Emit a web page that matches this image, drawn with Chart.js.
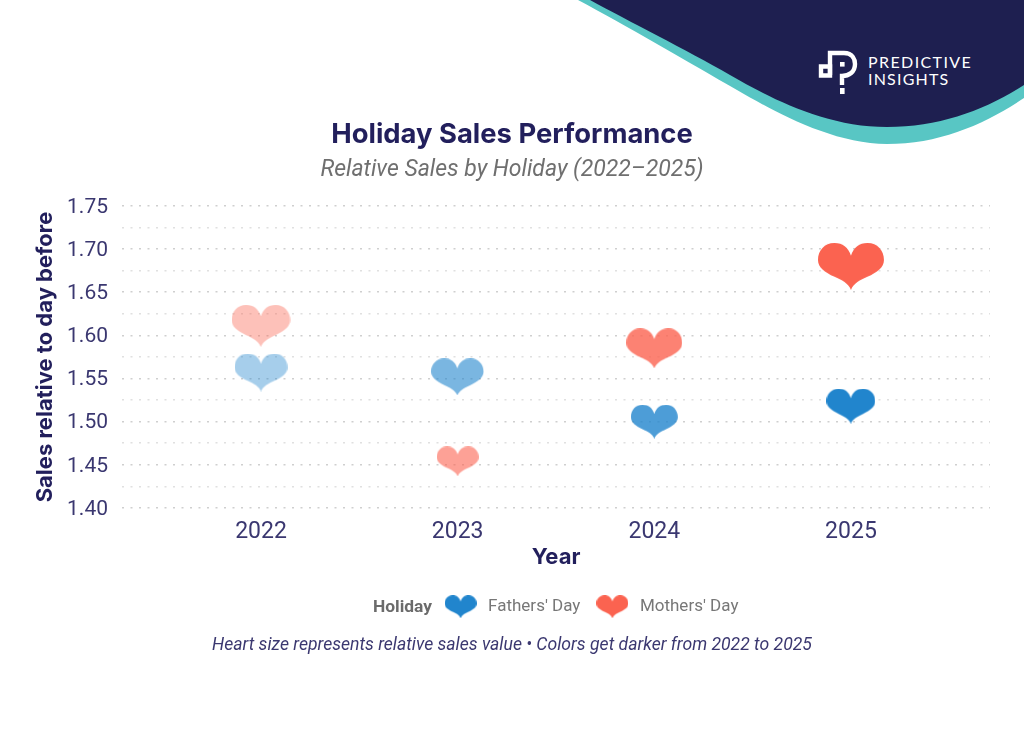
<!DOCTYPE html>
<html>
<head>
<meta charset="utf-8">
<script src="https://cdn.jsdelivr.net/npm/chart.js@4"></script>
<style>
html,body{margin:0;padding:0;background:#fff;width:1024px;height:731px;overflow:hidden}
#wrap{position:relative;width:1024px;height:731px}
#chart{position:absolute;left:0;top:0}
svg{position:absolute;left:0;top:0}
.t{position:absolute;white-space:nowrap;font-family:Roboto,sans-serif}
#holiday{left:373px;top:596px;font-size:17.4px;font-weight:700;color:#6b6b6b;line-height:20px}
#foot{left:212px;top:634px;font-size:17.6px;font-style:italic;color:#3b3870;line-height:20px}
</style>
</head>
<body>
<div id="wrap">
<svg width="1024" height="731" viewBox="0 0 1024 731">
<path fill="#58c6c4" d="M578 0 C625 25 690 63 737 90 C770 109 830 144 887 144 C940 144 985 124 1024 98 L1024 0 Z"/>
<path fill="#1e1f50" d="M590 0 C630 22 685 49 730 75 C770 98 825 127 887 127 C940 127 985 110 1024 85 L1024 0 Z"/>
<g fill="none" stroke="#fff" stroke-width="4.4">
<path d="M821 66.5 H830 V75.5 H821 Z"/>
<path d="M830 75 V53 H844 C853 53 855 60 855 64 C855 72 849 76 842 76 V85"/>
</g>
<rect x="840" y="88" width="4.6" height="6" fill="#fff"/>
<rect x="840" y="62" width="4.6" height="4.6" fill="#fff"/>
<text x="868" y="68" fill="#fff" font-family="Lato,sans-serif" font-size="16" letter-spacing="1.4">PREDICTIVE</text>
<text x="868" y="84.5" fill="#fff" font-family="Lato,sans-serif" font-size="16" letter-spacing="1.2">INSIGHTS</text>
</svg>
<canvas id="chart" width="1024" height="731" style="width:1024px;height:731px"></canvas>
<div class="t" id="holiday">Holiday</div>
<div class="t" id="foot">Heart size represents relative sales value • Colors get darker from 2022 to 2025</div>
</div>
<script>
const years = [2022, 2023, 2024, 2025];
const fathersDay = [1.557, 1.552, 1.500, 1.518];
const mothersDay = [1.611, 1.454, 1.585, 1.680];
const yTickLabels = ['1.40','1.45','1.50','1.55','1.60','1.65','1.70','1.75'];
const seriesNames = ["Fathers' Day", "Mothers' Day"];
const fathersColor = '33,133,205';
const mothersColor = '251,99,80';
const yearOpacity = [0.4, 0.6, 0.8, 1];

// Heart width grows linearly with the value ("heart size represents relative sales value")
const heartWidth = v => 42 + 106 * (v - 1.454);

function heart(w, rgb, alpha){
  const h = Math.round(w * 0.715);
  const c = document.createElement('canvas');
  const W = Math.ceil(w), H = Math.ceil(h);
  c.width = W; c.height = H;
  const g = c.getContext('2d');
  g.scale(w, h);
  g.beginPath();
  g.moveTo(.5,.27);
  g.bezierCurveTo(.46,.09,.37,0,.25,0);
  g.bezierCurveTo(.1,0,0,.16,0,.36);
  g.bezierCurveTo(0,.52,.1,.62,.25,.72);
  g.bezierCurveTo(.36,.79,.46,.86,.5,1);
  g.bezierCurveTo(.54,.86,.64,.79,.75,.72);
  g.bezierCurveTo(.9,.62,1,.52,1,.36);
  g.bezierCurveTo(1,.16,.9,0,.75,0);
  g.bezierCurveTo(.63,0,.54,.09,.5,.27);
  g.closePath();
  g.fillStyle = `rgba(${rgb},${alpha})`;
  g.fill();
  return c;
}

const xy = vals => vals.map((v,i)=>({x:years[i],y:v}));
const navy = '#221f5c';
const tickColor = '#3a3770';

const moveBlocks = {
  id:'moveBlocks',
  afterLayout(chart){
    const l = chart.legend;
    l.left += 95; l.right += 95; l.top += 15; l.bottom += 15;
    for (const b of chart.boxes){
      if (b.options && b.options.text && b !== l && !b.axis){ b.left += 17; b.right += 17; }
    }
  }
};

new Chart(document.getElementById('chart'), {
  type:'scatter',
  data:{datasets:[
    {label:seriesNames[0], data:xy(fathersDay), rgb:fathersColor,
     pointStyle:c=>c.raw?heart(heartWidth(c.raw.y),fathersColor,yearOpacity[c.dataIndex]):'circle',
     pointRadius:30, pointHoverRadius:30, clip:false},
    {label:seriesNames[1], data:xy(mothersDay), rgb:mothersColor,
     pointStyle:c=>c.raw?heart(heartWidth(c.raw.y),mothersColor,yearOpacity[c.dataIndex]):'circle',
     pointRadius:30, pointHoverRadius:30, clip:false}
  ]},
  options:{
    responsive:false, animation:false, devicePixelRatio:1,
    layout:{padding:{left:0,right:34,top:0,bottom:120.8}},
    plugins:{
      tooltip:{enabled:false},
      title:{display:true,text:'Holiday Sales Performance',color:navy,
        font:{family:'Inter, sans-serif',size:27.4,weight:'700'},padding:{top:118,bottom:1}},
      subtitle:{display:true,text:'Relative Sales by Holiday (2022–2025)',color:'#6f6f6f',
        font:{family:'Roboto, sans-serif',size:23,style:'italic',weight:'400'},padding:{top:4.5,bottom:22}},
      legend:{display:true,position:'bottom',align:'center',
        labels:{usePointStyle:true,pointStyleWidth:38,padding:13,color:'#777',
          font:{family:'Roboto, sans-serif',size:17},
          generateLabels:ch=>ch.data.datasets.map((d,i)=>({
            text:d.label,fontColor:'#777',datasetIndex:i,lineWidth:0,hidden:false,
            fillStyle:'transparent',strokeStyle:'transparent',
            pointStyle:heart(32,d.rgb,1)}))}
      }
    },
    scales:{
      x:{type:'linear',min:2021.293,max:2025.707,
        afterBuildTicks:s=>{s.ticks=years.map(v=>({value:v}));},
        afterFit:s=>{s.height=62.2;},
        grid:{display:false,drawTicks:false},border:{display:false},
        ticks:{color:tickColor,font:{family:'Roboto, sans-serif',size:23},padding:10,autoSkip:false,
          callback:v=>String(v)},
        title:{display:true,text:'Year',color:navy,font:{family:'Inter, sans-serif',size:22,weight:'700'},padding:{top:2,bottom:0}}
      },
      y:{type:'linear',min:1.4,max:1.75,
        afterBuildTicks:s=>{const t=[];for(let i=0;i<yTickLabels.length;i++){t.push({value:+yTickLabels[i]});if(i<yTickLabels.length-1)t.push({value:+yTickLabels[i]+0.025});}s.ticks=t;},
        afterFit:s=>{s.width=122;},
        grid:{drawTicks:false,
          color:c=>Math.abs(c.tick.value*20-Math.round(c.tick.value*20))<1e-6?'#cfcfcf':'#e0e0e0',
          lineWidth:1.6},
        border:{display:false,dash:[2,6.5]},
        ticks:{color:tickColor,font:{family:'Roboto, sans-serif',size:21,lineHeight:'3px'},padding:14,autoSkip:false,
          callback:v=>{const k=Math.abs(v*20-Math.round(v*20))<1e-6;return k?['',v.toFixed(2)]:'';}},
        title:{display:true,text:'Sales relative to day before',color:navy,font:{family:'Inter, sans-serif',size:22,weight:'700'},padding:{top:32,bottom:0}}
      }
    }
  },
  plugins:[moveBlocks]
});
</script>
</body>
</html>
